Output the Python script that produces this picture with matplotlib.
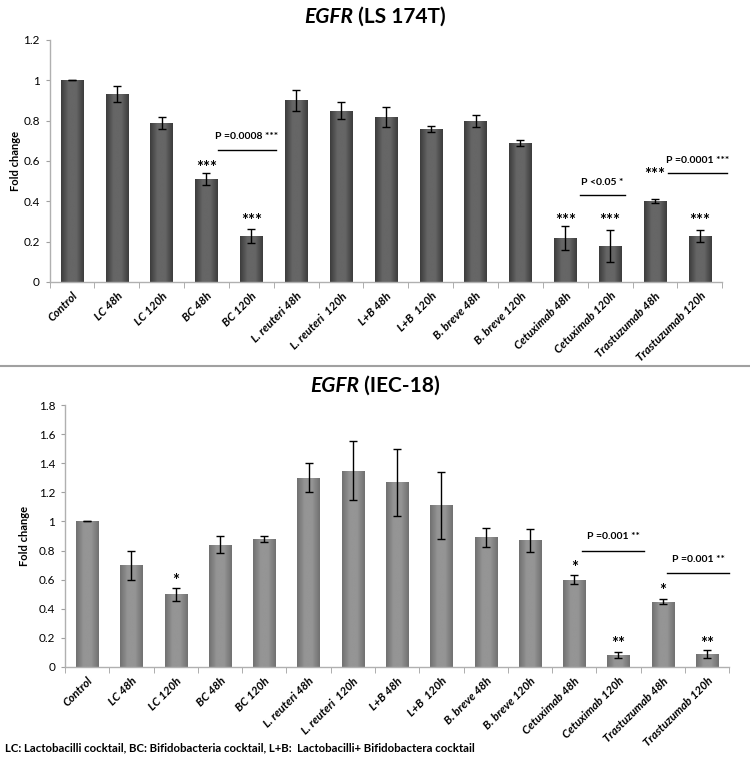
import numpy as np
import matplotlib
matplotlib.use("Agg")
import matplotlib.pyplot as plt
from matplotlib.colors import LinearSegmentedColormap

plt.rcParams['font.family'] = ['Lato', 'DejaVu Sans']

categories = ["Control", "LC 48h", "LC 120h", "BC 48h", "BC 120h",
              "L. reuteri 48h", "L. reuteri  120h", "L+B 48h", "L+B  120h",
              "B. breve 48h", "B. breve 120h", "Cetuximab 48h", "Cetuximab 120h",
              "Trastuzumab 48h", "Trastuzumab 120h"]

ls_values = [1.00, 0.93, 0.79, 0.51, 0.23, 0.90, 0.85, 0.82, 0.76, 0.80, 0.69,
             0.22, 0.18, 0.40, 0.23]
ls_errors = [0.0, 0.04, 0.03, 0.03, 0.035, 0.05, 0.04, 0.05, 0.015, 0.03, 0.015,
             0.06, 0.08, 0.01, 0.03]

iec_values = [1.00, 0.70, 0.50, 0.84, 0.88, 1.30, 1.35, 1.27, 1.11, 0.89, 0.87,
              0.60, 0.08, 0.45, 0.09]
iec_errors = [0.0, 0.10, 0.045, 0.06, 0.02, 0.10, 0.20, 0.23, 0.23, 0.065, 0.08,
              0.03, 0.02, 0.015, 0.025]

# significance stars: (category index, y position, text)
ls_stars = [(3, 0.565, "***"), (4, 0.30, "***"), (11, 0.30, "***"),
            (12, 0.30, "***"), (13, 0.53, "***"), (14, 0.30, "***")]
iec_stars = [(2, 0.59, "*"), (11, 0.68, "*"), (12, 0.16, "**"),
             (13, 0.525, "*"), (14, 0.16, "**")]

# p-value brackets: (x start, x end, line y, label)
ls_pvals = [(3.25, 4.55, 0.655, "P =0.0008 ***"),
            (11.33, 12.33, 0.43, "P <0.05 *"),
            (13.3, 14.6, 0.54, "P =0.0001 ***")]
iec_pvals = [(11.18, 12.58, 0.80, "P =0.001 **"),
             (13.1, 14.5, 0.645, "P =0.001 **")]

fig = plt.figure(figsize=(7.5, 7.57), dpi=100)

def gradient_bars(ax, bars, edge, center):
    cmap = LinearSegmentedColormap.from_list("g", [edge, center, center, edge])
    grad = np.linspace(0, 1, 64).reshape(1, -1)
    for b in bars:
        x0, y0 = b.get_x(), b.get_y()
        w, h = b.get_width(), b.get_height()
        im = ax.imshow(grad, cmap=cmap, aspect='auto',
                       extent=(x0, x0 + w, y0, y0 + h), zorder=2,
                       interpolation='bicubic')
        im.set_clip_path(b)
        b.set_facecolor('none')
        b.set_edgecolor('none')

def panel(rect, values, errors, ymax, ystep, edge, center, stars, pvals, ylbl_x):
    ax = fig.add_axes(rect)
    x = np.arange(len(categories))
    bars = ax.bar(x, values, width=0.5, zorder=2)
    gradient_bars(ax, bars, edge, center)
    ax.errorbar(x, values, yerr=errors, fmt='none', ecolor='black',
                elinewidth=1.0, capsize=2.8, capthick=1.0, zorder=3)
    ax.set_xlim(-0.5, len(categories) - 0.5)
    ax.set_ylim(0, ymax)
    yt = np.round(np.arange(0, ymax + 1e-9, ystep), 1)
    ax.set_yticks(yt)
    ax.set_yticklabels([("%g" % v) for v in yt], fontsize=8.5)
    ax.set_xticks(x)
    ax.set_xticklabels(categories, rotation=45, ha='right', rotation_mode='anchor',
                       fontsize=8.3, fontweight='bold', fontstyle='italic')
    ax.set_xticks(np.arange(-0.5, len(categories)), minor=True)
    ax.tick_params(axis='x', which='major', length=0, pad=6)
    ax.tick_params(axis='x', which='minor', length=4, color='#a0a0a0', direction='out')
    ax.tick_params(axis='y', length=3, color='#a0a0a0', pad=4)
    for s in ['top', 'right']:
        ax.spines[s].set_visible(False)
    for s in ['left', 'bottom']:
        ax.spines[s].set_color('#b0b0b0')
        ax.spines[s].set_linewidth(1.0)
    ax.set_ylabel("Fold change", fontsize=8, fontweight='bold')
    ax.yaxis.set_label_coords(ylbl_x, 0.5)
    for i, yv, t in stars:
        ax.text(i, yv, t, ha='center', va='center', fontsize=12, fontweight='bold')
    for xs, xe, yv, t in pvals:
        ax.plot([xs, xe], [yv, yv], color='black', lw=1.0, zorder=3, clip_on=False)
        ax.text((xs + xe) / 2, yv + 0.035 * ymax, t, ha='center', va='bottom',
                fontsize=7.5, fontweight='bold')
    return ax

ax1 = panel([0.066, 0.6275, 0.897, 0.3197], ls_values, ls_errors, 1.2, 0.2,
            '#3c3c3c', '#666666', ls_stars, ls_pvals, -0.043)
ax2 = panel([0.0867, 0.1189, 0.8855, 0.346], iec_values, iec_errors, 1.8, 0.2,
            '#707070', '#959595', iec_stars, iec_pvals, -0.052)

def title(y, rest):
    t1 = fig.text(0.5, y, "EGFR", fontsize=15, fontweight='bold', fontstyle='italic',
                  ha='left', va='center')
    t2 = fig.text(0.5, y, rest, fontsize=15, fontweight='bold', ha='left', va='center')
    fig.canvas.draw()
    r = fig.canvas.get_renderer()
    w1 = t1.get_window_extent(r).width
    w2 = t2.get_window_extent(r).width
    W = fig.bbox.width
    start = 0.5 - (w1 + w2) / 2 / W
    t1.set_x(start)
    t2.set_x(start + w1 / W)

title(1 - 17 / 757, " (LS 174T)")
title(1 - 386 / 757, " (IEC-18)")

fig.add_artist(plt.Line2D([0, 1], [1 - 366 / 757, 1 - 366 / 757],
                          color='#a0a0a0', lw=1.5, transform=fig.transFigure))

fig.text(0.007, 1 - 748 / 757,
         "LC: Lactobacilli cocktail, BC: Bifidobacteria cocktail, L+B:  Lactobacilli+ Bifidobactera cocktail",
         fontsize=8.2, fontweight='bold', ha='left', va='center')

fig.savefig("out.png", dpi=100)
